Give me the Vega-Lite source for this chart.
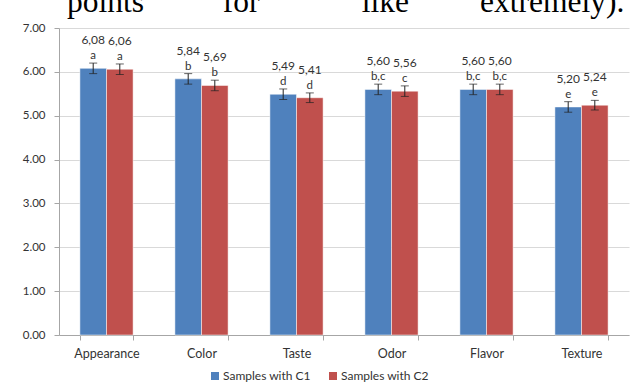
{
  "$schema": "https://vega.github.io/schema/vega-lite/v6.json",
  "width": 570,
  "height": 307,
  "autosize": {"type": "none"},
  "padding": {"left": 59, "top": 28, "right": 3, "bottom": 52},
  "background": "white",
  "title": {
    "text": "points\u00a0\u00a0\u00a0\u00a0\u00a0\u00a0\u00a0\u00a0\u00a0\u00a0for\u00a0\u00a0\u00a0\u00a0\u00a0\u00a0\u00a0\u00a0\u00a0\u00a0\u00a0\u00a0\u00a0like\u00a0\u00a0\u00a0\u00a0\u00a0\u00a0\u00a0\u00a0\u00a0extremely).",
    "anchor": "start",
    "frame": "group",
    "font": "Liberation Serif",
    "fontSize": 31.5,
    "fontWeight": "normal",
    "color": "#000000",
    "baseline": "alphabetic",
    "offset": 0,
    "dx": 8,
    "dy": 21
  },
  "data": {
    "values": [
      {"attribute": "Appearance", "sample": "Samples with C1", "mean": 6.08, "lo": 5.96, "hi": 6.20, "label": "6,08", "letter": "a"},
      {"attribute": "Appearance", "sample": "Samples with C2", "mean": 6.06, "lo": 5.94, "hi": 6.18, "label": "6,06", "letter": "a"},
      {"attribute": "Color", "sample": "Samples with C1", "mean": 5.84, "lo": 5.72, "hi": 5.96, "label": "5,84", "letter": "b"},
      {"attribute": "Color", "sample": "Samples with C2", "mean": 5.69, "lo": 5.57, "hi": 5.81, "label": "5,69", "letter": "b"},
      {"attribute": "Taste", "sample": "Samples with C1", "mean": 5.49, "lo": 5.37, "hi": 5.61, "label": "5,49", "letter": "d"},
      {"attribute": "Taste", "sample": "Samples with C2", "mean": 5.41, "lo": 5.30, "hi": 5.52, "label": "5,41", "letter": "d"},
      {"attribute": "Odor", "sample": "Samples with C1", "mean": 5.60, "lo": 5.48, "hi": 5.72, "label": "5,60", "letter": "b,c"},
      {"attribute": "Odor", "sample": "Samples with C2", "mean": 5.56, "lo": 5.44, "hi": 5.68, "label": "5,56", "letter": "c"},
      {"attribute": "Flavor", "sample": "Samples with C1", "mean": 5.60, "lo": 5.48, "hi": 5.72, "label": "5,60", "letter": "b,c"},
      {"attribute": "Flavor", "sample": "Samples with C2", "mean": 5.60, "lo": 5.48, "hi": 5.72, "label": "5,60", "letter": "b,c"},
      {"attribute": "Texture", "sample": "Samples with C1", "mean": 5.20, "lo": 5.08, "hi": 5.32, "label": "5,20", "letter": "e"},
      {"attribute": "Texture", "sample": "Samples with C2", "mean": 5.24, "lo": 5.13, "hi": 5.35, "label": "5,24", "letter": "e"}
    ]
  },
  "encoding": {
    "x": {
      "field": "attribute",
      "type": "nominal",
      "sort": null,
      "scale": {"paddingInner": 0.44, "paddingOuter": 0.22},
      "axis": {
        "title": null,
        "labelAngle": 0,
        "labelFont": "Lato",
        "labelFontSize": 12.5,
        "labelColor": "#333333",
        "labelPadding": 7,
        "domainColor": "#a6a6a6",
        "tickColor": "#a6a6a6",
        "tickBand": "extent",
        "tickSize": 5
      }
    },
    "xOffset": {"field": "sample", "type": "nominal", "scale": {"paddingInner": 0, "paddingOuter": 0}}
  },
  "layer": [
    {
      "mark": {"type": "bar", "stroke": "white", "strokeWidth": 0.5},
      "encoding": {
        "y": {
          "field": "mean",
          "type": "quantitative",
          "scale": {"domain": [0, 7], "nice": false},
          "axis": {
            "title": null,
            "values": [0, 1, 2, 3, 4, 5, 6, 7],
            "format": ".2f",
            "labelFont": "Lato",
            "labelFontSize": 11.5,
            "labelColor": "#333333",
            "labelPadding": 9,
            "gridColor": "#d9d9d9",
            "domainColor": "#a6a6a6",
            "tickColor": "#a6a6a6",
            "tickSize": 5
          }
        },
        "color": {
          "field": "sample",
          "type": "nominal",
          "scale": {"range": ["#4F81BD", "#C0504D"]},
          "legend": {
            "title": null,
            "orient": "none",
            "direction": "horizontal",
            "legendX": 150,
            "legendY": 342,
            "symbolType": "square",
            "symbolSize": 64,
            "symbolStrokeWidth": 0,
            "labelFont": "Lato",
            "labelFontSize": 12,
            "labelColor": "#333333",
            "labelOffset": 2,
            "columnPadding": 16
          }
        }
      }
    },
    {
      "mark": {"type": "rule", "color": "#222222", "strokeWidth": 1},
      "encoding": {
        "y": {"field": "lo", "type": "quantitative"},
        "y2": {"field": "hi"}
      }
    },
    {
      "mark": {"type": "tick", "color": "#222222", "orient": "horizontal", "size": 8, "thickness": 1},
      "encoding": {"y": {"field": "lo", "type": "quantitative"}}
    },
    {
      "mark": {"type": "tick", "color": "#222222", "orient": "horizontal", "size": 8, "thickness": 1},
      "encoding": {"y": {"field": "hi", "type": "quantitative"}}
    },
    {
      "mark": {"type": "text", "font": "Lato", "fontSize": 11.5, "color": "#333333", "baseline": "middle", "dy": -7},
      "encoding": {
        "y": {"field": "hi", "type": "quantitative"},
        "text": {"field": "letter"}
      }
    },
    {
      "mark": {"type": "text", "font": "Lato", "fontSize": 12, "color": "#333333", "baseline": "middle", "dy": -23},
      "encoding": {
        "y": {"field": "hi", "type": "quantitative"},
        "text": {"field": "label"}
      }
    }
  ],
  "config": {
    "view": {"stroke": null}
  }
}
